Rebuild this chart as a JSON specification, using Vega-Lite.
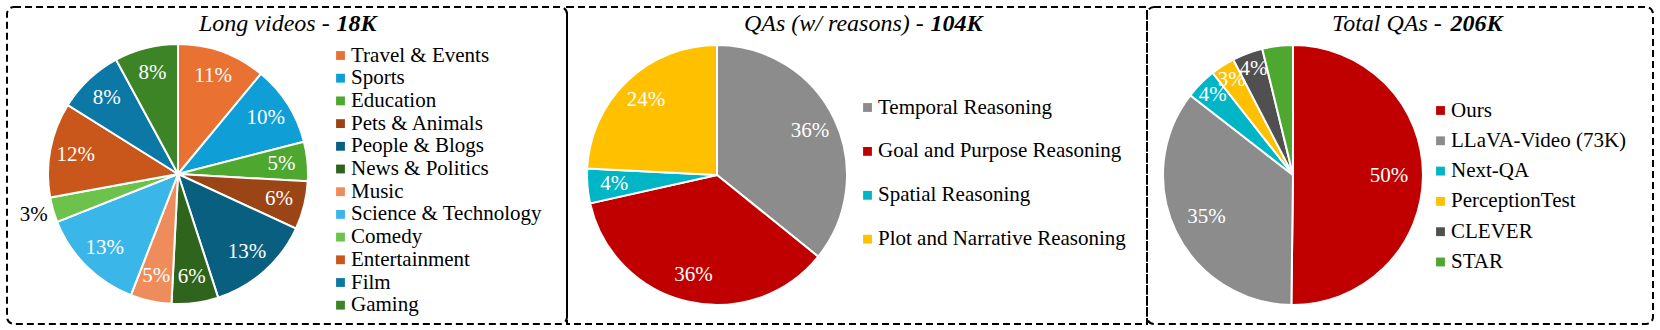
{
  "$schema": "https://vega.github.io/schema/vega-lite/v6.json",
  "background": "white",
  "padding": {"left": 6, "top": 6, "right": 0, "bottom": 0},
  "spacing": 0,
  "bounds": "flush",
  "config": {
    "font": "Liberation Serif",
    "title": {"font": "Liberation Serif", "fontSize": 24, "fontStyle": "italic", "fontWeight": "normal", "color": "#000000", "anchor": "start", "frame": "group", "align": "left", "offset": -29},
    "axis": {"domain": false, "ticks": false, "labels": false, "grid": false, "titlePadding": 0, "titleAlign": "left", "titleBaseline": "top", "titleY": 4, "titleFont": "Liberation Serif", "titleFontSize": 24, "titleFontStyle": "italic", "titleFontWeight": "bold", "titleColor": "#000000"},
    "legend": {
      "orient": "none",
      "title": null,
      "symbolType": "square",
      "symbolSize": 78,
      "symbolStrokeWidth": 0,
      "symbolOpacity": 1,
      "labelFont": "Liberation Serif",
      "labelFontSize": 21,
      "labelColor": "#000000",
      "labelOffset": 0,
      "labelLimit": 400
    }
  },
  "resolve": {
    "scale": {"color": "independent", "theta": "independent", "x": "independent"},
    "legend": {"color": "independent"},
    "axis": {"x": "independent"}
  },
  "hconcat": [
    {
      "width": 560,
      "height": 317,
      "view": {"stroke": "#000000", "strokeDash": [7, 4], "strokeWidth": 2, "cornerRadius": 7},
      "title": {"text": "Long videos - ", "dx": 192},
      "data": {"values": [
        {"k": 1, "category": "Travel & Events", "share": 0.110},
        {"k": 2, "category": "Sports", "share": 0.100},
        {"k": 3, "category": "Education", "share": 0.049},
        {"k": 4, "category": "Pets & Animals", "share": 0.060},
        {"k": 5, "category": "People & Blogs", "share": 0.131},
        {"k": 6, "category": "News & Politics", "share": 0.058},
        {"k": 7, "category": "Music", "share": 0.051},
        {"k": 8, "category": "Science & Technology", "share": 0.131},
        {"k": 9, "category": "Comedy", "share": 0.031},
        {"k": 10, "category": "Entertainment", "share": 0.118},
        {"k": 11, "category": "Film", "share": 0.082},
        {"k": 12, "category": "Gaming", "share": 0.079}
      ]},
      "layer": [
        {
          "mark": {"type": "arc", "outerRadius": 130, "x": 171, "y": 167, "stroke": "#ffffff", "strokeWidth": 2},
          "encoding": {
            "theta": {"field": "share", "type": "quantitative", "stack": true},
            "order": {"field": "k", "type": "quantitative"},
            "color": {
              "field": "category", "type": "nominal",
              "scale": {
                "domain": ["Travel & Events", "Sports", "Education", "Pets & Animals", "People & Blogs", "News & Politics", "Music", "Science & Technology", "Comedy", "Entertainment", "Film", "Gaming"],
                "range": ["#E97132", "#0F9ED5", "#4EA72E", "#9B4416", "#095F80", "#2F641C", "#EE8D5B", "#3AB6E8", "#6CC24A", "#C9561A", "#0C78A6", "#3D8427"]
              },
              "legend": {"legendX": 323, "legendY": 38, "rowPadding": 0.7}
            }
          }
        },
        {
          "mark": {"type": "text", "radius": 104, "x": 171, "y": 167, "font": "Liberation Serif", "fontSize": 21},
          "encoding": {
            "theta": {"field": "share", "type": "quantitative", "stack": true},
            "order": {"field": "k", "type": "quantitative"},
            "text": {"condition": {"test": "datum.category != 'Comedy'", "field": "share", "type": "quantitative", "format": ".0%"}, "value": ""},
            "color": {"value": "#ffffff"}
          }
        },
        {
          "mark": {"type": "text", "radius": 150, "x": 171, "y": 167, "font": "Liberation Serif", "fontSize": 21},
          "encoding": {
            "theta": {"field": "share", "type": "quantitative", "stack": true},
            "order": {"field": "k", "type": "quantitative"},
            "text": {"condition": {"test": "datum.category == 'Comedy'", "field": "share", "type": "quantitative", "format": ".0%"}, "value": ""},
            "color": {"value": "#000000"}
          }
        },
        {
          "transform": [{"filter": "datum.k == 1"}],
          "mark": {"type": "rule", "opacity": 0},
          "encoding": {
            "x": {"datum": 0, "type": "quantitative", "axis": {"orient": "top", "title": "18K", "titleX": 329}}
          }
        }
      ]
    },
    {
      "width": 580,
      "height": 317,
      "view": {"stroke": "#000000", "strokeDash": [7, 4], "strokeWidth": 2},
      "title": {"text": "QAs (w/ reasons) - ", "dx": 177},
      "data": {"values": [
        {"k": 1, "category": "Temporal Reasoning", "share": 0.358},
        {"k": 2, "category": "Goal and Purpose Reasoning", "share": 0.357},
        {"k": 3, "category": "Spatial Reasoning", "share": 0.043},
        {"k": 4, "category": "Plot and Narrative Reasoning", "share": 0.242}
      ]},
      "layer": [
        {
          "mark": {"type": "arc", "outerRadius": 130, "x": 150, "y": 168, "stroke": "#ffffff", "strokeWidth": 2},
          "encoding": {
            "theta": {"field": "share", "type": "quantitative", "stack": true},
            "order": {"field": "k", "type": "quantitative"},
            "color": {
              "field": "category", "type": "nominal",
              "scale": {
                "domain": ["Temporal Reasoning", "Goal and Purpose Reasoning", "Spatial Reasoning", "Plot and Narrative Reasoning"],
                "range": ["#8C8C8C", "#C00000", "#00B6C6", "#FFC000"]
              },
              "legend": {"legendX": 290, "legendY": 90, "rowPadding": 21.9}
            }
          }
        },
        {
          "mark": {"type": "text", "radius": 103, "x": 150, "y": 168, "font": "Liberation Serif", "fontSize": 21},
          "encoding": {
            "theta": {"field": "share", "type": "quantitative", "stack": true},
            "order": {"field": "k", "type": "quantitative"},
            "text": {"field": "share", "type": "quantitative", "format": ".0%"},
            "color": {"value": "#ffffff"}
          }
        },
        {
          "transform": [{"filter": "datum.k == 1"}],
          "mark": {"type": "rule", "opacity": 0},
          "encoding": {
            "x": {"datum": 0, "type": "quantitative", "axis": {"orient": "top", "title": "104K", "titleX": 363}}
          }
        }
      ]
    },
    {
      "width": 506,
      "height": 317,
      "view": {"stroke": "#000000", "strokeDash": [7, 4], "strokeWidth": 2, "cornerRadius": 7},
      "title": {"text": "Total QAs - ", "dx": 185},
      "data": {"values": [
        {"k": 1, "category": "Ours", "share": 0.502},
        {"k": 2, "category": "LLaVA-Video (73K)", "share": 0.353},
        {"k": 3, "category": "Next-QA", "share": 0.039},
        {"k": 4, "category": "PerceptionTest", "share": 0.030},
        {"k": 5, "category": "CLEVER", "share": 0.038},
        {"k": 6, "category": "STAR", "share": 0.038}
      ]},
      "layer": [
        {
          "mark": {"type": "arc", "outerRadius": 130, "x": 146, "y": 168, "stroke": "#ffffff", "strokeWidth": 2},
          "encoding": {
            "theta": {"field": "share", "type": "quantitative", "stack": true},
            "order": {"field": "k", "type": "quantitative"},
            "color": {
              "field": "category", "type": "nominal",
              "scale": {
                "domain": ["Ours", "LLaVA-Video (73K)", "Next-QA", "PerceptionTest", "CLEVER", "STAR"],
                "range": ["#C00000", "#8C8C8C", "#00B6C6", "#FFC000", "#505050", "#4EA72E"]
              },
              "legend": {"legendX": 283, "legendY": 93, "rowPadding": 8.3}
            }
          }
        },
        {
          "mark": {"type": "text", "radius": 96, "x": 146, "y": 168, "font": "Liberation Serif", "fontSize": 21},
          "encoding": {
            "theta": {"field": "share", "type": "quantitative", "stack": true},
            "order": {"field": "k", "type": "quantitative"},
            "text": {"condition": {"test": "datum.share > 0.2", "field": "share", "type": "quantitative", "format": ".0%"}, "value": ""},
            "color": {"value": "#ffffff"}
          }
        },
        {
          "mark": {"type": "text", "radius": 113, "x": 146, "y": 168, "font": "Liberation Serif", "fontSize": 21},
          "encoding": {
            "theta": {"field": "share", "type": "quantitative", "stack": true},
            "order": {"field": "k", "type": "quantitative"},
            "text": {"condition": {"test": "datum.share < 0.2 && datum.category != 'STAR'", "field": "share", "type": "quantitative", "format": ".0%"}, "value": ""},
            "color": {"value": "#ffffff"}
          }
        },
        {
          "transform": [{"filter": "datum.k == 1"}],
          "mark": {"type": "rule", "opacity": 0},
          "encoding": {
            "x": {"datum": 0, "type": "quantitative", "axis": {"orient": "top", "title": "206K", "titleX": 303}}
          }
        }
      ]
    }
  ]
}
